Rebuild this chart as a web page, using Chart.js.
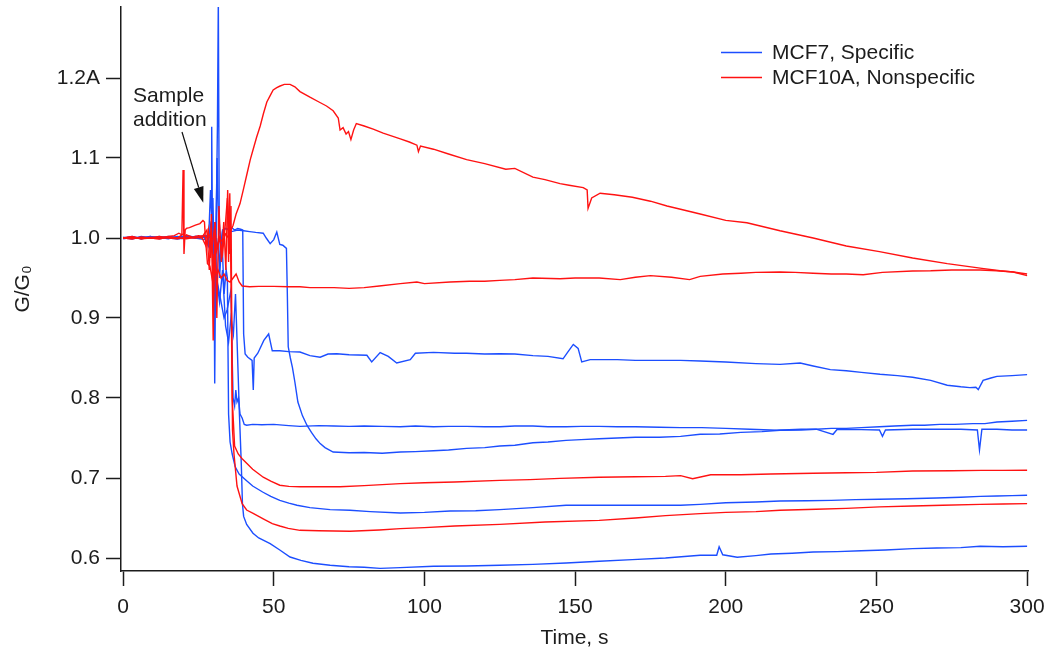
<!DOCTYPE html>
<html><head><meta charset="utf-8">
<script src="https://cdn.jsdelivr.net/npm/chart.js@4.4.1/dist/chart.umd.min.js"></script>
<style>html,body{margin:0;padding:0;background:#fff}#wrap{width:1053px;height:651px}</style>
</head><body><div id="wrap"><canvas id="c" width="1053" height="651"></canvas></div>
<script>
// ---- axis labels ----
const xTickValues = [0, 50, 100, 150, 200, 250, 300];
const yTickValues = [0.6, 0.7, 0.8, 0.9, 1.0, 1.1, 1.2];
const yTickLabels = ['0.6', '0.7', '0.8', '0.9', '1.0', '1.1', '1.2A'];
const xTitle = 'Time, s';
const yTitle = 'G/G\u2080';
const legendLabels = ['MCF7, Specific', 'MCF10A, Nonspecific'];
const noteLines = ['Sample', 'addition'];
const notePoint = [26.6, 1.044]; // time, value the arrow points at

// ---- MCF7 (specific) traces ----
const mcf7a_t = [0,3,6,9,12,15,18,21,24,27,28.5,29.3,30,30.8,31.3,31.6,31.9,32.4,33,34,35,36,38,40,42,44,46.5,47.5,48.8,50,51,52,53,54.2,54.5,54.8,55.5,56.2,57,58,59.5,61,62.5,64,65.4,67,69.7,75,80,86,92,97,103,108,114,120,125,130,136,141,147,152,158,164,170,178,185,191.5,198,205,212,218,225,230,235,240,245,251,256,262,266,271,276,282,286,290,295,300];
const mcf7a_v = [1.000,1.002,0.999,1.001,1.000,1.002,1.001,1.003,1.001,1.002,1.004,1.000,1.010,0.995,1.140,1.300,1.02,0.99,1.008,1.012,1.010,1.008,1.010,1.009,1.008,1.007,1.006,1.000,0.993,0.998,1.0075,0.992,0.991,0.987,0.93,0.864,0.850,0.838,0.820,0.795,0.778,0.766,0.757,0.749,0.743,0.738,0.7325,0.7315,0.7318,0.731,0.7325,0.733,0.734,0.735,0.737,0.738,0.740,0.741,0.744,0.745,0.747,0.748,0.749,0.750,0.751,0.751,0.752,0.7546,0.755,0.757,0.758,0.7596,0.760,0.761,0.762,0.762,0.763,0.764,0.765,0.766,0.766,0.767,0.767,0.768,0.768,0.770,0.771,0.772];

const mcf7b_t = [0,3,6,9,12,15,18,21,24,27,28.5,29.2,29.4,29.7,30.2,31,32,33,34,35,36,37,38,39,39.7,40,40.5,41.4,42.8,43.2,43.5,44.7,46.7,48.3,49.5,52,55,58.7,62,65.4,68,70.9,75,80.9,82.5,85.3,88,90.8,95.3,97,103,110,114,120,125,130,136,141,146,147.5,149.4,151,152.2,155,158.3,164,170,178,185,191.5,200,210,218,224.7,229,234.7,240,245,251.2,257,262,268,273.5,278,281,283,283.8,285.4,288,290,295,300];
const mcf7b_v = [1.001,0.999,1.002,1.000,1.001,0.999,1.002,1.000,1.002,1.001,1.003,1.02,1.139,0.99,0.95,1.0,0.97,1.01,1.012,1.011,1.013,1.010,1.012,1.011,1.010,0.88,0.855,0.851,0.847,0.81,0.85,0.856,0.872,0.880,0.859,0.859,0.858,0.8575,0.853,0.851,0.855,0.8554,0.854,0.8534,0.845,0.8568,0.852,0.8437,0.848,0.856,0.857,0.856,0.856,0.855,0.8554,0.855,0.853,0.852,0.849,0.857,0.867,0.862,0.845,0.848,0.848,0.848,0.847,0.847,0.847,0.8463,0.845,0.843,0.842,0.8438,0.840,0.8354,0.834,0.832,0.8296,0.828,0.826,0.822,0.8159,0.814,0.813,0.8135,0.8105,0.822,0.825,0.827,0.828,0.8292];

const mcf7c_t = [0,3,6,9,12,15,18,21,24,27,28.5,29.5,30.2,30.4,30.7,31,32,33.5,34.5,35.8,36.2,36.5,37,37.4,37.8,38.3,38.8,39.5,40.2,41,43,46,50,55,58.7,65,70,75,80,86,92,97,103,108,114,120,125,130,136,141,147,152,158,164,170,178,185,192,200,208,217,225,230,235.6,237,245,251,252,253,262,270,278,283.5,284.2,285,290,295,300];
const mcf7c_v = [0.999,1.001,1.000,1.002,0.999,1.001,1.000,1.002,1.000,1.003,1.000,1.005,0.95,0.818,0.96,0.95,0.93,0.90,0.91,0.935,0.85,0.80,0.79,0.81,0.795,0.80,0.78,0.775,0.767,0.766,0.767,0.7665,0.767,0.7655,0.7645,0.7655,0.765,0.7645,0.765,0.7645,0.764,0.765,0.764,0.7645,0.7645,0.764,0.764,0.765,0.765,0.764,0.764,0.7645,0.7645,0.764,0.764,0.7635,0.763,0.763,0.762,0.761,0.7596,0.761,0.761,0.7546,0.761,0.7605,0.760,0.752,0.760,0.761,0.761,0.761,0.760,0.735,0.761,0.761,0.760,0.760];

const mcf7d_t = [0,3,6,9,12,15,18,21,24,27,28,29,29.8,30.5,31.2,32,32.8,33.5,34.2,34.6,35,35.5,36.2,37.2,38.5,40.9,43,46.3,49,52,55,57.7,62,68.7,75.3,82,92,100,108.5,117,125,136,147,158,169,178,185,191.5,200,210,218,227,235,243,251,260,270,278,284.4,290,295,300];
const mcf7d_v = [1.000,0.999,1.001,1.000,1.002,1.000,0.999,1.001,1.000,0.998,1.002,0.99,1.05,0.92,1.10,0.95,1.0,0.93,0.96,0.95,0.78,0.745,0.73,0.714,0.705,0.697,0.690,0.6825,0.677,0.672,0.6685,0.666,0.663,0.6605,0.6596,0.658,0.6563,0.657,0.6588,0.659,0.6605,0.663,0.666,0.666,0.666,0.666,0.666,0.667,0.669,0.670,0.6713,0.6715,0.672,0.673,0.6734,0.674,0.675,0.676,0.677,0.6775,0.678,0.6784];

const mcf7e_t = [0,3,6,9,12,15,18,21,24,27,28.3,29,30,30.6,31,32,33,34,35,35.8,36.6,37.3,38,38.6,39.2,39.6,40,41,43.1,45,48.8,52,55.4,59,63,68.7,75,80,85.3,92,103,114,125,136,147,158,169,180,191.5,197,197.8,199,203.8,210,215,222,229,237,245,253,262,270,278,284.4,292,300];
const mcf7e_v = [1.000,1.001,0.999,1.002,1.000,1.001,0.999,1.000,1.002,1.001,0.99,1.06,0.97,1.02,0.95,0.92,0.96,0.89,0.87,0.90,0.88,0.93,0.85,0.78,0.72,0.668,0.652,0.642,0.631,0.625,0.618,0.610,0.6012,0.597,0.5934,0.5909,0.589,0.5885,0.587,0.588,0.5896,0.590,0.591,0.592,0.5938,0.596,0.598,0.600,0.6034,0.6034,0.614,0.604,0.601,0.603,0.605,0.606,0.6075,0.608,0.609,0.610,0.6117,0.6125,0.613,0.6146,0.614,0.6146];

// ---- MCF10A (nonspecific) traces ----
const mcf10a_a_t = [0,3,6,9,12,15,17,18.5,19.5,20,20.5,21,23,25,27,28,29,29.6,30.2,31,32,33,34,35,35.6,36.5,37.5,38.8,40,41.1,42.2,43.1,44.3,45.5,46.6,47.7,48.8,49.8,51,52.1,53.5,55.4,57,58.7,62,65,67.5,69.7,71.4,72,73,74,74.8,75.6,76.5,77.4,80,83,86.3,92,95,97.5,98,98.7,103,108,114,120,127,130,136,140,145,148,152.7,154,154.3,155.5,158.3,163,169,175,180.5,185,191.5,200,207,218,229,240,251,262,273.5,285,291,295.4,300];
const mcf10a_a_v = [1.000,1.002,0.999,1.001,1.000,1.002,1.003,1.006,1.004,1.005,1.002,1.004,1.001,1.003,1.002,1.0,1.005,0.99,1.01,0.985,1.0,0.995,1.005,1.0,1.008,1.016,1.03,1.043,1.062,1.08,1.098,1.11,1.126,1.14,1.156,1.17,1.178,1.185,1.188,1.19,1.192,1.192,1.189,1.183,1.176,1.17,1.165,1.159,1.15,1.135,1.138,1.13,1.133,1.123,1.135,1.143,1.14,1.136,1.131,1.124,1.12,1.116,1.108,1.115,1.111,1.105,1.098,1.093,1.086,1.087,1.076,1.073,1.068,1.066,1.063,1.060,1.037,1.050,1.056,1.054,1.051,1.046,1.04,1.036,1.03,1.022,1.019,1.009,1.0,0.99,0.983,0.975,0.968,0.962,0.959,0.9575,0.955];

const mcf10a_b_t = [0,3,6,9,12,15,18,19.5,19.9,20.2,20.6,21,22,24,25.5,26.5,27,27.3,28,28.8,29.5,30.2,30.8,31.5,32.5,33.5,34.5,35.5,36.5,37.5,38.5,39.5,42,45,50,55,58.7,62,65,70,75,80,85,92,97.5,100,108.5,115,120,125,130,136,145,150,158,165,170,175,182,188,191.5,199,205,210,218,223,229,235,240,245.6,252,262,268,275,284.4,290,295.4,300];
const mcf10a_b_v = [1.000,0.999,1.001,1.000,0.999,1.001,1.000,1.004,1.085,0.98,1.01,1.012,1.013,1.016,1.018,1.022,1.02,1.0,0.968,0.965,0.95,0.98,0.955,0.96,0.95,0.955,0.947,0.945,0.95,0.955,0.945,0.94,0.939,0.9395,0.9395,0.939,0.939,0.938,0.938,0.938,0.937,0.938,0.94,0.943,0.945,0.943,0.945,0.946,0.946,0.947,0.948,0.95,0.949,0.95,0.95,0.948,0.951,0.953,0.951,0.948,0.952,0.955,0.956,0.957,0.9575,0.957,0.956,0.955,0.955,0.954,0.957,0.9587,0.959,0.96,0.96,0.959,0.9575,0.953];

const mcf10a_c_t = [0,3,6,9,12,15,18,21,24,26,27.5,28.3,29,29.5,30,30.5,31,32,33,34,34.6,35,35.4,35.8,36.2,37,38.2,39.5,41.1,43,46.5,49,52,55,58.7,65,72,80,92,100,110,125,135,145,158,170,180,185,189,195,205,215,229,240,250,262,275,285,292,300];
const mcf10a_c_v = [1.000,1.001,0.999,1.000,1.002,1.000,0.999,1.001,1.000,1.002,0.99,1.01,0.975,1.0,0.93,1.02,0.985,1.0,0.98,1.02,1.05,0.97,1.056,0.95,0.80,0.74,0.73,0.724,0.718,0.711,0.701,0.696,0.691,0.6895,0.689,0.689,0.689,0.6905,0.693,0.694,0.695,0.697,0.698,0.6995,0.701,0.7015,0.702,0.703,0.699,0.704,0.704,0.705,0.706,0.7065,0.707,0.7087,0.709,0.7095,0.7095,0.7096];

const mcf10a_d_t = [0,3,6,9,12,15,18,21,24,26,27.8,28.6,29.3,29.9,30.5,31.1,31.8,32.6,33.4,34.1,34.7,35.3,35.8,36.3,36.8,37.8,39.5,41,43,46.5,49.5,52,54.8,58.7,65,75.3,85,92,100,110,125,140,158,170,180,191.5,200,210,218,230,240,251,262,272,284.4,292,300];
const mcf10a_d_v = [1.000,0.999,1.001,1.000,0.999,1.001,1.000,0.999,1.001,1.0,1.01,0.96,1.03,0.872,1.02,0.90,1.04,0.97,1.02,0.96,1.06,0.98,1.04,0.76,0.73,0.69,0.668,0.66,0.656,0.649,0.643,0.64,0.637,0.6346,0.634,0.6334,0.635,0.6367,0.638,0.640,0.642,0.645,0.647,0.650,0.653,0.6555,0.657,0.658,0.6596,0.661,0.662,0.6639,0.665,0.666,0.667,0.6675,0.668];

// ---- chart ----
const FONT = "'Liberation Sans', Arial, Helvetica, sans-serif";
const BLUE = 'rgb(28,78,255)';
const RED = 'rgb(255,18,18)';
const INK = '#1c1c1c';
function pts(t, v) { return t.map((x, i) => ({x: x, y: v[i]})); }

const series = [
  {t: mcf10a_a_t, v: mcf10a_a_v, c: RED},
  {t: mcf10a_b_t, v: mcf10a_b_v, c: RED},
  {t: mcf10a_c_t, v: mcf10a_c_v, c: RED},
  {t: mcf10a_d_t, v: mcf10a_d_v, c: RED},
  {t: mcf7a_t, v: mcf7a_v, c: BLUE},
  {t: mcf7b_t, v: mcf7b_v, c: BLUE},
  {t: mcf7c_t, v: mcf7c_v, c: BLUE},
  {t: mcf7d_t, v: mcf7d_v, c: BLUE},
  {t: mcf7e_t, v: mcf7e_v, c: BLUE}
];

const overlay = {
  id: 'overlay',
  afterDraw(chart) {
    const ctx = chart.ctx;
    const xs = chart.scales.x, ys = chart.scales.y;
    ctx.save();
    // legend
    const legendColors = [BLUE, RED];
    ctx.font = '21px ' + FONT;
    ctx.textBaseline = 'middle';
    ctx.textAlign = 'left';
    legendLabels.forEach((lab, i) => {
      const y = 52.5 + i * 25;
      ctx.strokeStyle = legendColors[i];
      ctx.lineWidth = 1.5;
      ctx.beginPath(); ctx.moveTo(721, y); ctx.lineTo(762, y); ctx.stroke();
      ctx.fillStyle = INK;
      ctx.fillText(lab, 772, y + 1);
    });
    // annotation
    ctx.textBaseline = 'alphabetic';
    ctx.fillStyle = INK;
    ctx.fillText(noteLines[0], 133, 102);
    ctx.fillText(noteLines[1], 133, 126);
    const tx = xs.getPixelForValue(notePoint[0]);
    const ty = ys.getPixelForValue(notePoint[1]);
    const sx = 182, sy = 132;
    const ang = Math.atan2(ty - sy, tx - sx);
    const hl = 16, hw = 5;
    const bx = tx - hl * Math.cos(ang), by = ty - hl * Math.sin(ang);
    ctx.strokeStyle = '#111';
    ctx.lineWidth = 1.2;
    ctx.beginPath(); ctx.moveTo(sx, sy); ctx.lineTo(bx, by); ctx.stroke();
    ctx.fillStyle = '#111';
    ctx.beginPath();
    ctx.moveTo(tx, ty);
    ctx.lineTo(bx + hw * Math.sin(ang), by - hw * Math.cos(ang));
    ctx.lineTo(bx - hw * Math.sin(ang), by + hw * Math.cos(ang));
    ctx.closePath(); ctx.fill();
    ctx.restore();
  }
};

new Chart(document.getElementById('c'), {
  type: 'line',
  data: {
    datasets: series.map(s => ({
      data: pts(s.t, s.v),
      borderColor: s.c,
      borderWidth: 1.4,
      pointRadius: 0,
      tension: 0,
      fill: false
    }))
  },
  options: {
    responsive: false,
    animation: false,
    devicePixelRatio: 1,
    layout: {padding: {top: 7, right: 25, bottom: 0, left: 0}},
    plugins: {legend: {display: false}, tooltip: {enabled: false}},
    scales: {
      x: {
        type: 'linear', min: -0.7, max: 300.3,
        afterBuildTicks: s => { s.ticks = xTickValues.map(v => ({value: v})); },
        afterFit: s => { s.height = 80; s.paddingLeft = 0; s.paddingRight = 0; },
        border: {color: INK, width: 1.5},
        grid: {drawOnChartArea: false, tickLength: 15, tickColor: INK, tickWidth: 1.5},
        ticks: {color: INK, font: {family: FONT, size: 21}, padding: 9, maxRotation: 0, autoSkip: false},
        title: {display: true, text: xTitle, color: INK, font: {family: FONT, size: 21}, padding: {top: 0, bottom: 0}}
      },
      y: {
        type: 'linear', min: 0.58375, max: 1.28875,
        afterBuildTicks: s => { s.ticks = yTickValues.map(v => ({value: v})); },
        afterFit: s => { s.width = 121; s.paddingTop = 0; s.paddingBottom = 0; },
        border: {color: INK, width: 1.5},
        grid: {drawOnChartArea: false, tickLength: 15, tickColor: INK, tickWidth: 1.5},
        ticks: {
          color: INK, font: {family: FONT, size: 21}, padding: 6, autoSkip: false,
          callback: (val) => { const i = yTickValues.findIndex(v => Math.abs(v - val) < 1e-6); return i >= 0 ? yTickLabels[i] : ''; }
        },
        title: {display: true, text: yTitle, color: INK, font: {family: FONT, size: 21}, padding: {top: 11, bottom: 0}}
      }
    }
  },
  plugins: [overlay]
});
</script>
</body></html>
